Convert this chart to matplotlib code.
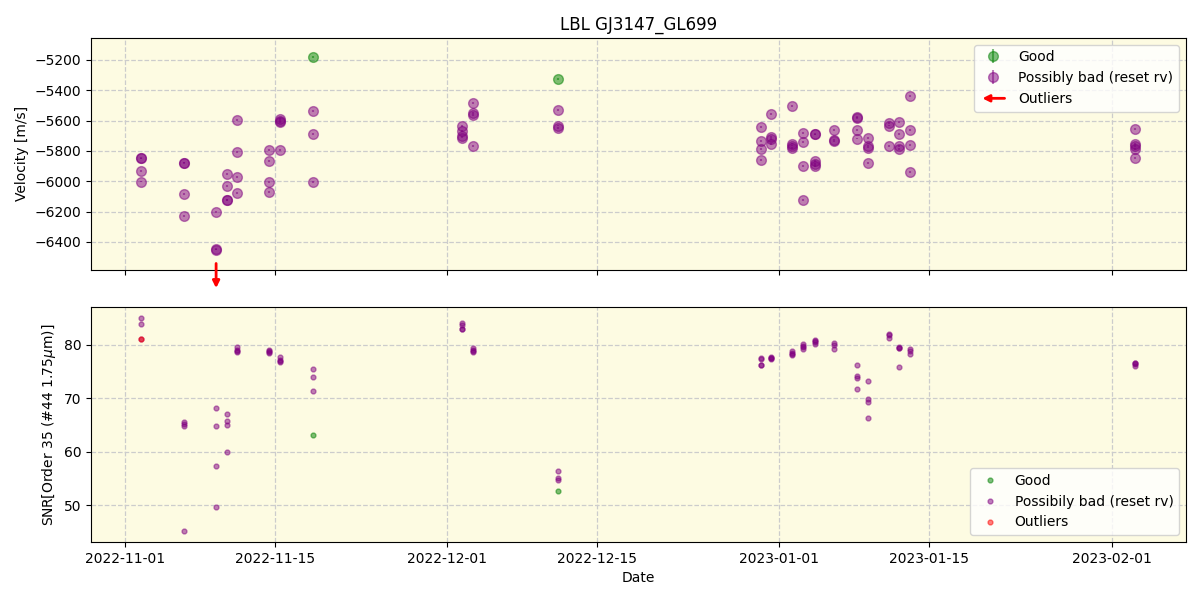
import numpy as np
import pandas as pd
import matplotlib
matplotlib.use("Agg")
import matplotlib.pyplot as plt
import matplotlib.dates as mdates
from matplotlib.legend_handler import HandlerBase
from matplotlib.patches import FancyArrowPatch

# ---------------- data ----------------
good_dates = ["2022-11-18 12:00", "2022-12-11 10:00"]
good_rv = [-5182, -5325]
good_rv_err = [6, 6]
good_snr = [63.1, 52.6]

bad_rv_groups = [
    ("2022-11-02 12:00", [-5848, -5850, -5932, -6002]),
    ("2022-11-06 12:00", [-5877, -5880, -6086, -6229]),
    ("2022-11-09 12:00", [-6204, -6445, -6450]),
    ("2022-11-10 12:00", [-5954, -6029, -6123, -6125]),
    ("2022-11-11 10:00", [-5598, -5809, -5974, -6077]),
    ("2022-11-14 10:00", [-5796, -5867, -6004, -6072]),
    ("2022-11-15 10:00", [-5591, -5605, -5613, -5796]),
    ("2022-11-18 12:00", [-5538, -5688, -6004]),
    ("2022-12-02 10:00", [-5635, -5668, -5705, -5712]),
    ("2022-12-03 10:00", [-5486, -5552, -5563, -5769]),
    ("2022-12-11 10:00", [-5532, -5633, -5650]),
    ("2022-12-30 07:00", [-5642, -5734, -5789, -5861]),
    ("2022-12-31 05:00", [-5556, -5706, -5721, -5756]),
    ("2023-01-02 05:00", [-5503, -5752, -5765, -5782]),
    ("2023-01-03 05:00", [-5683, -5743, -5899, -6123]),
    ("2023-01-04 07:00", [-5688, -5692, -5866, -5884, -5899]),
    ("2023-01-06 02:00", [-5664, -5730, -5738]),
    ("2023-01-08 05:00", [-5578, -5585, -5664, -5719]),
    ("2023-01-09 07:00", [-5716, -5769, -5778, -5881]),
    ("2023-01-11 05:00", [-5618, -5633, -5767]),
    ("2023-01-12 05:00", [-5609, -5690, -5767, -5789]),
    ("2023-01-13 05:00", [-5440, -5664, -5763, -5938]),
    ("2023-02-03 05:00", [-5657, -5754, -5767, -5789, -5848]),
]

bad_snr_groups = [
    ("2022-11-02 12:00", [85.1, 83.9, 81.2]),
    ("2022-11-06 12:00", [65.6, 65.2, 64.9, 45.2]),
    ("2022-11-09 12:00", [68.2, 64.9, 57.3, 49.7]),
    ("2022-11-10 12:00", [67.1, 65.8, 65.0, 59.9]),
    ("2022-11-11 10:00", [79.7, 79.1, 78.7, 78.9]),
    ("2022-11-14 10:00", [79.1, 78.8, 78.4, 78.6]),
    ("2022-11-15 10:00", [77.7, 77.2, 76.8, 77.0]),
    ("2022-11-18 12:00", [75.5, 74.0, 71.4]),
    ("2022-12-02 10:00", [84.2, 83.8, 82.9, 83.0]),
    ("2022-12-03 10:00", [79.4, 79.1, 78.7, 78.9]),
    ("2022-12-11 10:00", [56.4, 55.0, 54.8]),
    ("2022-12-30 07:00", [77.5, 77.4, 76.2, 76.3]),
    ("2022-12-31 05:00", [77.7, 77.4, 77.6, 77.5]),
    ("2023-01-02 05:00", [78.9, 78.5, 78.1, 78.3]),
    ("2023-01-03 05:00", [80.2, 79.8, 79.3, 79.6]),
    ("2023-01-04 07:00", [81.0, 80.6, 80.2, 80.8]),
    ("2023-01-06 02:00", [80.4, 80.0, 79.2]),
    ("2023-01-08 05:00", [76.2, 74.1, 73.9, 71.7]),
    ("2023-01-09 07:00", [73.3, 69.9, 69.4, 66.3]),
    ("2023-01-11 05:00", [82.1, 81.8, 81.3]),
    ("2023-01-12 05:00", [79.7, 79.4, 79.5, 75.9]),
    ("2023-01-13 05:00", [79.2, 78.9, 78.3]),
    ("2023-02-03 05:00", [76.7, 76.5, 76.1, 76.6]),
]

outlier_snr_dates = ["2022-11-02 12:00"]
outlier_snr = [81.2]
outlier_arrow_dates = ["2022-11-09 12:00"]

xtick_dates = ["2022-11-01", "2022-11-15", "2022-12-01", "2022-12-15",
               "2023-01-01", "2023-01-15", "2023-02-01"]
rv_ticks = [-6400, -6200, -6000, -5800, -5600, -5400, -5200]
snr_ticks = [50, 60, 70, 80]

# ---------------- build arrays ----------------
bad_rv_dates = pd.to_datetime([d for d, vals in bad_rv_groups for _ in vals])
bad_rv = np.array([v for _, vals in bad_rv_groups for v in vals], float)
bad_rv_err = np.full(bad_rv.shape, 6.0)
bad_snr_dates = pd.to_datetime([d for d, vals in bad_snr_groups for _ in vals])
bad_snr = np.array([v for _, vals in bad_snr_groups for v in vals], float)
gdates = pd.to_datetime(good_dates)

bg = "#fdfbe2"

fig = plt.figure(figsize=(12, 6), dpi=100)
ax1 = fig.add_axes([0.0758, 0.55, 0.9125, 0.387])
ax2 = fig.add_axes([0.0758, 0.0967, 0.9125, 0.3916], sharex=ax1)

for ax in (ax1, ax2):
    ax.set_facecolor(bg)
    ax.grid(True, linestyle="--", color="#cccccc", linewidth=0.9)
    ax.set_axisbelow(True)

h_good = ax1.errorbar(gdates, good_rv, yerr=good_rv_err, fmt="o", color="green",
                      alpha=0.5, ms=7, label="Good")
h_bad = ax1.errorbar(bad_rv_dates, bad_rv, yerr=bad_rv_err, fmt="o", color="purple",
                     alpha=0.5, ms=7, label="Possibly bad (reset rv)")

ax1.set_ylim(-6585, -5055)
ax1.set_yticks(rv_ticks)
ax1.set_ylabel("Velocity [m/s]")
ax1.set_title("LBL GJ3147_GL699")

for d in pd.to_datetime(outlier_arrow_dates):
    ax1.annotate("", xy=(d, -0.09), xycoords=("data", "axes fraction"),
                 xytext=(d, 0.04), textcoords=("data", "axes fraction"),
                 arrowprops=dict(arrowstyle="-|>", color="red", lw=2,
                                 mutation_scale=10),
                 annotation_clip=False)


class ArrowHandler(HandlerBase):
    def create_artists(self, legend, orig_handle, xdescent, ydescent,
                       width, height, fontsize, trans):
        y = height / 2 - ydescent
        arr = FancyArrowPatch((width - xdescent, y), (-xdescent, y),
                              arrowstyle="-|>", mutation_scale=10,
                              color="red", lw=2, transform=trans)
        return [arr]


arrow_proxy = FancyArrowPatch((0, 0), (1, 0))
ax1.legend([h_good, h_bad, arrow_proxy],
           ["Good", "Possibly bad (reset rv)", "Outliers"],
           handler_map={FancyArrowPatch: ArrowHandler()},
           loc="upper right", fontsize=10)
plt.setp(ax1.get_xticklabels(), visible=False)

ax2.plot(gdates, good_snr, "o", color="green", alpha=0.5, ms=3.5, label="Good")
ax2.plot(bad_snr_dates, bad_snr, "o", color="purple", alpha=0.5, ms=3.5,
         label="Possibily bad (reset rv)")
ax2.plot(pd.to_datetime(outlier_snr_dates), outlier_snr, "o", color="red",
         alpha=0.5, ms=3.5, label="Outliers")
ax2.set_ylim(43.1, 87.1)
ax2.set_yticks(snr_ticks)
ax2.set_ylabel(r"SNR[Order 35 (#44 1.75$\mu$m)]")
ax2.set_xlabel("Date")
ax2.legend(loc="lower right", fontsize=10)

ax2.set_xticks(pd.to_datetime(xtick_dates))
ax2.xaxis.set_major_formatter(mdates.DateFormatter("%Y-%m-%d"))
ax2.set_xlim(pd.Timestamp("2022-10-28 20:00"), pd.Timestamp("2023-02-07 22:00"))

fig.savefig("out.png", dpi=100)
